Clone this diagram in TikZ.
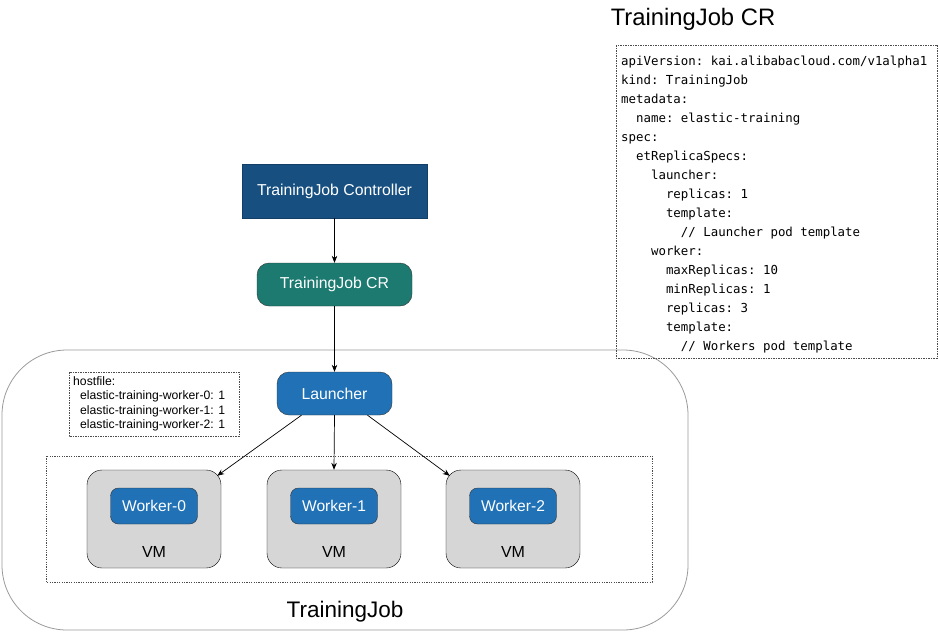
\documentclass[tikz,border=0pt]{standalone}
\usepackage{fontspec}
\setmainfont{Liberation Sans}
\setmonofont{DejaVu Sans Mono}
\usepackage{tikz}
\usetikzlibrary{shapes.geometric, arrows.meta}

\definecolor{ctrlblue}{HTML}{164F80}
\definecolor{crteal}{HTML}{1C7A70}
\definecolor{podblue}{HTML}{2071B5}
\definecolor{vmgray}{HTML}{D6D6D6}
\newcommand{\ind}[1]{\hspace*{#1\dimexpr 7.47pt\relax}}

\begin{document}
\begin{tikzpicture}[x=1pt, y=-1pt]
    \tikzstyle{controller} = [rectangle, minimum width=185pt, minimum height=54pt, text centered, draw=ctrlblue!80!black, fill=ctrlblue, text=white, font=\fontsize{15.8}{18}\selectfont]
    \tikzstyle{crbox} = [rectangle, rounded corners=12pt, minimum width=155pt, minimum height=43pt, text centered, draw=black!80, fill=crteal, text=white, font=\fontsize{15.8}{18}\selectfont]
    \tikzstyle{pod} = [rectangle, rounded corners=12pt, minimum width=115pt, minimum height=43pt, text centered, draw=black!80, fill=podblue, text=white, font=\fontsize{15.8}{18}\selectfont]
    \tikzstyle{worker} = [rectangle, rounded corners=8pt, minimum width=87pt, minimum height=36pt, text centered, draw=black!80, fill=podblue, text=white, font=\fontsize{15.6}{18}\selectfont]
    \tikzstyle{vm} = [rectangle, rounded corners=15pt, minimum width=134pt, minimum height=98pt, draw=black, fill=vmgray]
    \tikzstyle{vmlabel} = [anchor=center, yshift=16pt, font=\fontsize{16}{18}\selectfont]
    \tikzstyle{dotbox} = [draw=black!70, dash pattern=on 1.5pt off 1pt, line width=0.6pt]
    \tikzstyle{arrow} = [line width=0.7pt,-{Stealth[length=7pt,width=5.5pt]}]

    \useasboundingbox (0,0) rectangle (939,632);

    % outer TrainingJob frame
    \draw [gray!80, line width=0.8pt, rounded corners=65pt] (2,350) rectangle (688,630);
    \node (jobtitle) at (345,612) {\fontsize{22.5}{26}\selectfont TrainingJob};
    \draw [dotbox, dash pattern=on 1.2pt off 1.2pt] (46,456) rectangle (652,582);

    % CR spec
    \node (crtitle) at (693,19) {\fontsize{23.8}{28}\selectfont TrainingJob CR};
    \draw [dotbox] (616,45) rectangle (937,358);
    \node (spec) [anchor=north west, align=left, inner sep=0pt, font=\ttfamily\fontsize{12.4}{19}\selectfont] at (621,56) {%
        apiVersion: kai.alibabacloud.com/v1alpha1\\
        kind: TrainingJob\\
        metadata:\\
        \ind{2}name: elastic-training\\
        spec:\\
        \ind{2}etReplicaSpecs:\\
        \ind{4}launcher:\\
        \ind{6}replicas: 1\\
        \ind{6}template:\\
        \ind{8}// Launcher pod template\\
        \ind{4}worker:\\
        \ind{6}maxReplicas: 10\\
        \ind{6}minReplicas: 1\\
        \ind{6}replicas: 3\\
        \ind{6}template:\\
        \ind{8}// Workers pod template};

    % hostfile
    \draw [dotbox] (69,372) rectangle (239,436);
    \node (hostfile) [anchor=north west, align=left, inner sep=0pt, font=\fontsize{12.2}{14.5}\selectfont] at (73,376) {%
        hostfile:\\
        \hspace*{7pt}elastic-training-worker-0: 1\\
        \hspace*{7pt}elastic-training-worker-1: 1\\
        \hspace*{7pt}elastic-training-worker-2: 1};

    \node (ctrl) [controller] at (334.5,191) {TrainingJob Controller};
    \node (cr) [crbox] at (334.5,284.5) {TrainingJob CR};
    \node (launcher) [pod] at (334.5,393.5) {Launcher};

    \node (vm0) [vm, label={[vmlabel]south:VM}] at (154,519) {};
    \node (vm1) [vm, label={[vmlabel]south:VM}] at (334,519) {};
    \node (vm2) [vm, label={[vmlabel]south:VM}] at (513,519) {};
    \node (w0) [worker] at (154,506) {Worker-0};
    \node (w1) [worker] at (334,506) {Worker-1};
    \node (w2) [worker] at (513,506) {Worker-2};

    \draw [arrow] (ctrl) -- (cr);
    \draw [arrow] (cr) -- (launcher);
    \draw [arrow] ([xshift=-33pt]launcher.south) -- ([xshift=-4pt,yshift=-6pt]vm0.north east);
    \draw [arrow] (launcher.south) -- (vm1.north);
    \draw [arrow] ([xshift=33pt]launcher.south) -- ([xshift=4pt,yshift=-6pt]vm2.north west);
\end{tikzpicture}
\end{document}
